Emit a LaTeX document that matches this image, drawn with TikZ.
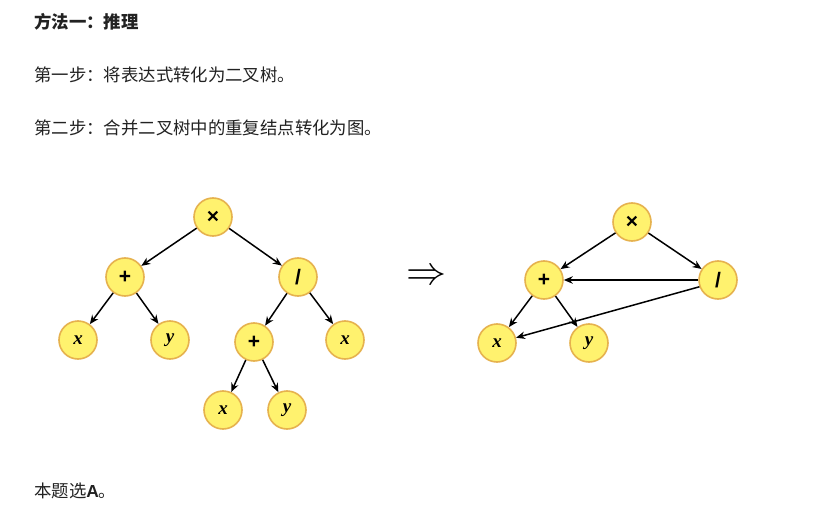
\documentclass[tikz,border=0pt]{standalone}
\usepackage{fontspec}
\newfontfamily\cjk{Noto Sans CJK SC}
\newfontfamily\opsans{Liberation Sans}
\setmainfont{Liberation Serif}
\usetikzlibrary{arrows.meta}
\definecolor{nodefill}{HTML}{FFF26E}
\definecolor{noderim}{HTML}{E6B24E}
\definecolor{txt}{HTML}{222222}
\begin{document}
\begin{tikzpicture}[x=1pt,y=-1pt,
  tnode/.style={circle,fill=nodefill,draw=noderim,line width=1.6pt,
    minimum size=38pt,inner sep=0pt,font=\fontsize{19}{19}\selectfont\bfseries},
  opnode/.style={tnode,font=\opsans\fontsize{21}{21}\selectfont\bfseries},
  edge/.style={-{Stealth[length=9pt,width=7.5pt]},line width=1.5pt,black},
  para/.style={anchor=west,inner sep=0pt,text=txt,font=\cjk\fontsize{17.4}{17.4}\selectfont}]
\useasboundingbox[fill=white] (0,0) rectangle (836,519);

% text lines
\node[para] (t1) at (34,22) {\bfseries 方法一：推理};
\node[para] (t2) at (34,75) {第一步：将表达式转化为二叉树。};
\node[para] (t3) at (34,128) {第二步：合并二叉树中的重复结点转化为图。};
\node[para] (t4) at (34,491) {本题选{\opsans\bfseries A}。};

% binary tree
\node[opnode] (m)  at (213,217) {×};
\node[opnode] (p1) at (125,277) {+};
\node[opnode] (d)  at (298,277) {/};
\node[tnode] (x1) at (78,340)  {\itshape x};
\node[tnode] (y1) at (170,340) {\itshape y};
\node[opnode] (p2) at (254,342) {+};
\node[tnode] (x3) at (345,340) {\itshape x};
\node[tnode] (x2) at (223,410) {\itshape x};
\node[tnode] (y2) at (287,410) {\itshape y};

\draw[edge] (m) -- (p1);
\draw[edge] (m) -- (d);
\draw[edge] (p1) -- (x1);
\draw[edge] (p1) -- (y1);
\draw[edge] (d) -- (p2);
\draw[edge] (d) -- (x3);
\draw[edge] (p2) -- (x2);
\draw[edge] (p2) -- (y2);

% implication arrow
\node[scale=4,inner sep=0pt] (imp) at (426,277) {$\Rightarrow$};

% merged graph
\node[opnode] (gm) at (632,222) {×};
\node[opnode] (gp) at (544,280) {+};
\node[opnode] (gd) at (718,280) {/};
\node[tnode] (gx) at (497,343) {\itshape x};
\node[tnode] (gy) at (589,343) {\itshape y};

\draw[edge] (gm) -- (gp);
\draw[edge] (gm) -- (gd);
\draw[edge] (gd) -- (gp);
\draw[edge] (gd.200) -- (gx);
\draw[edge] (gp) -- (gx);
\draw[edge] (gp) -- (gy);
\end{tikzpicture}
\end{document}
